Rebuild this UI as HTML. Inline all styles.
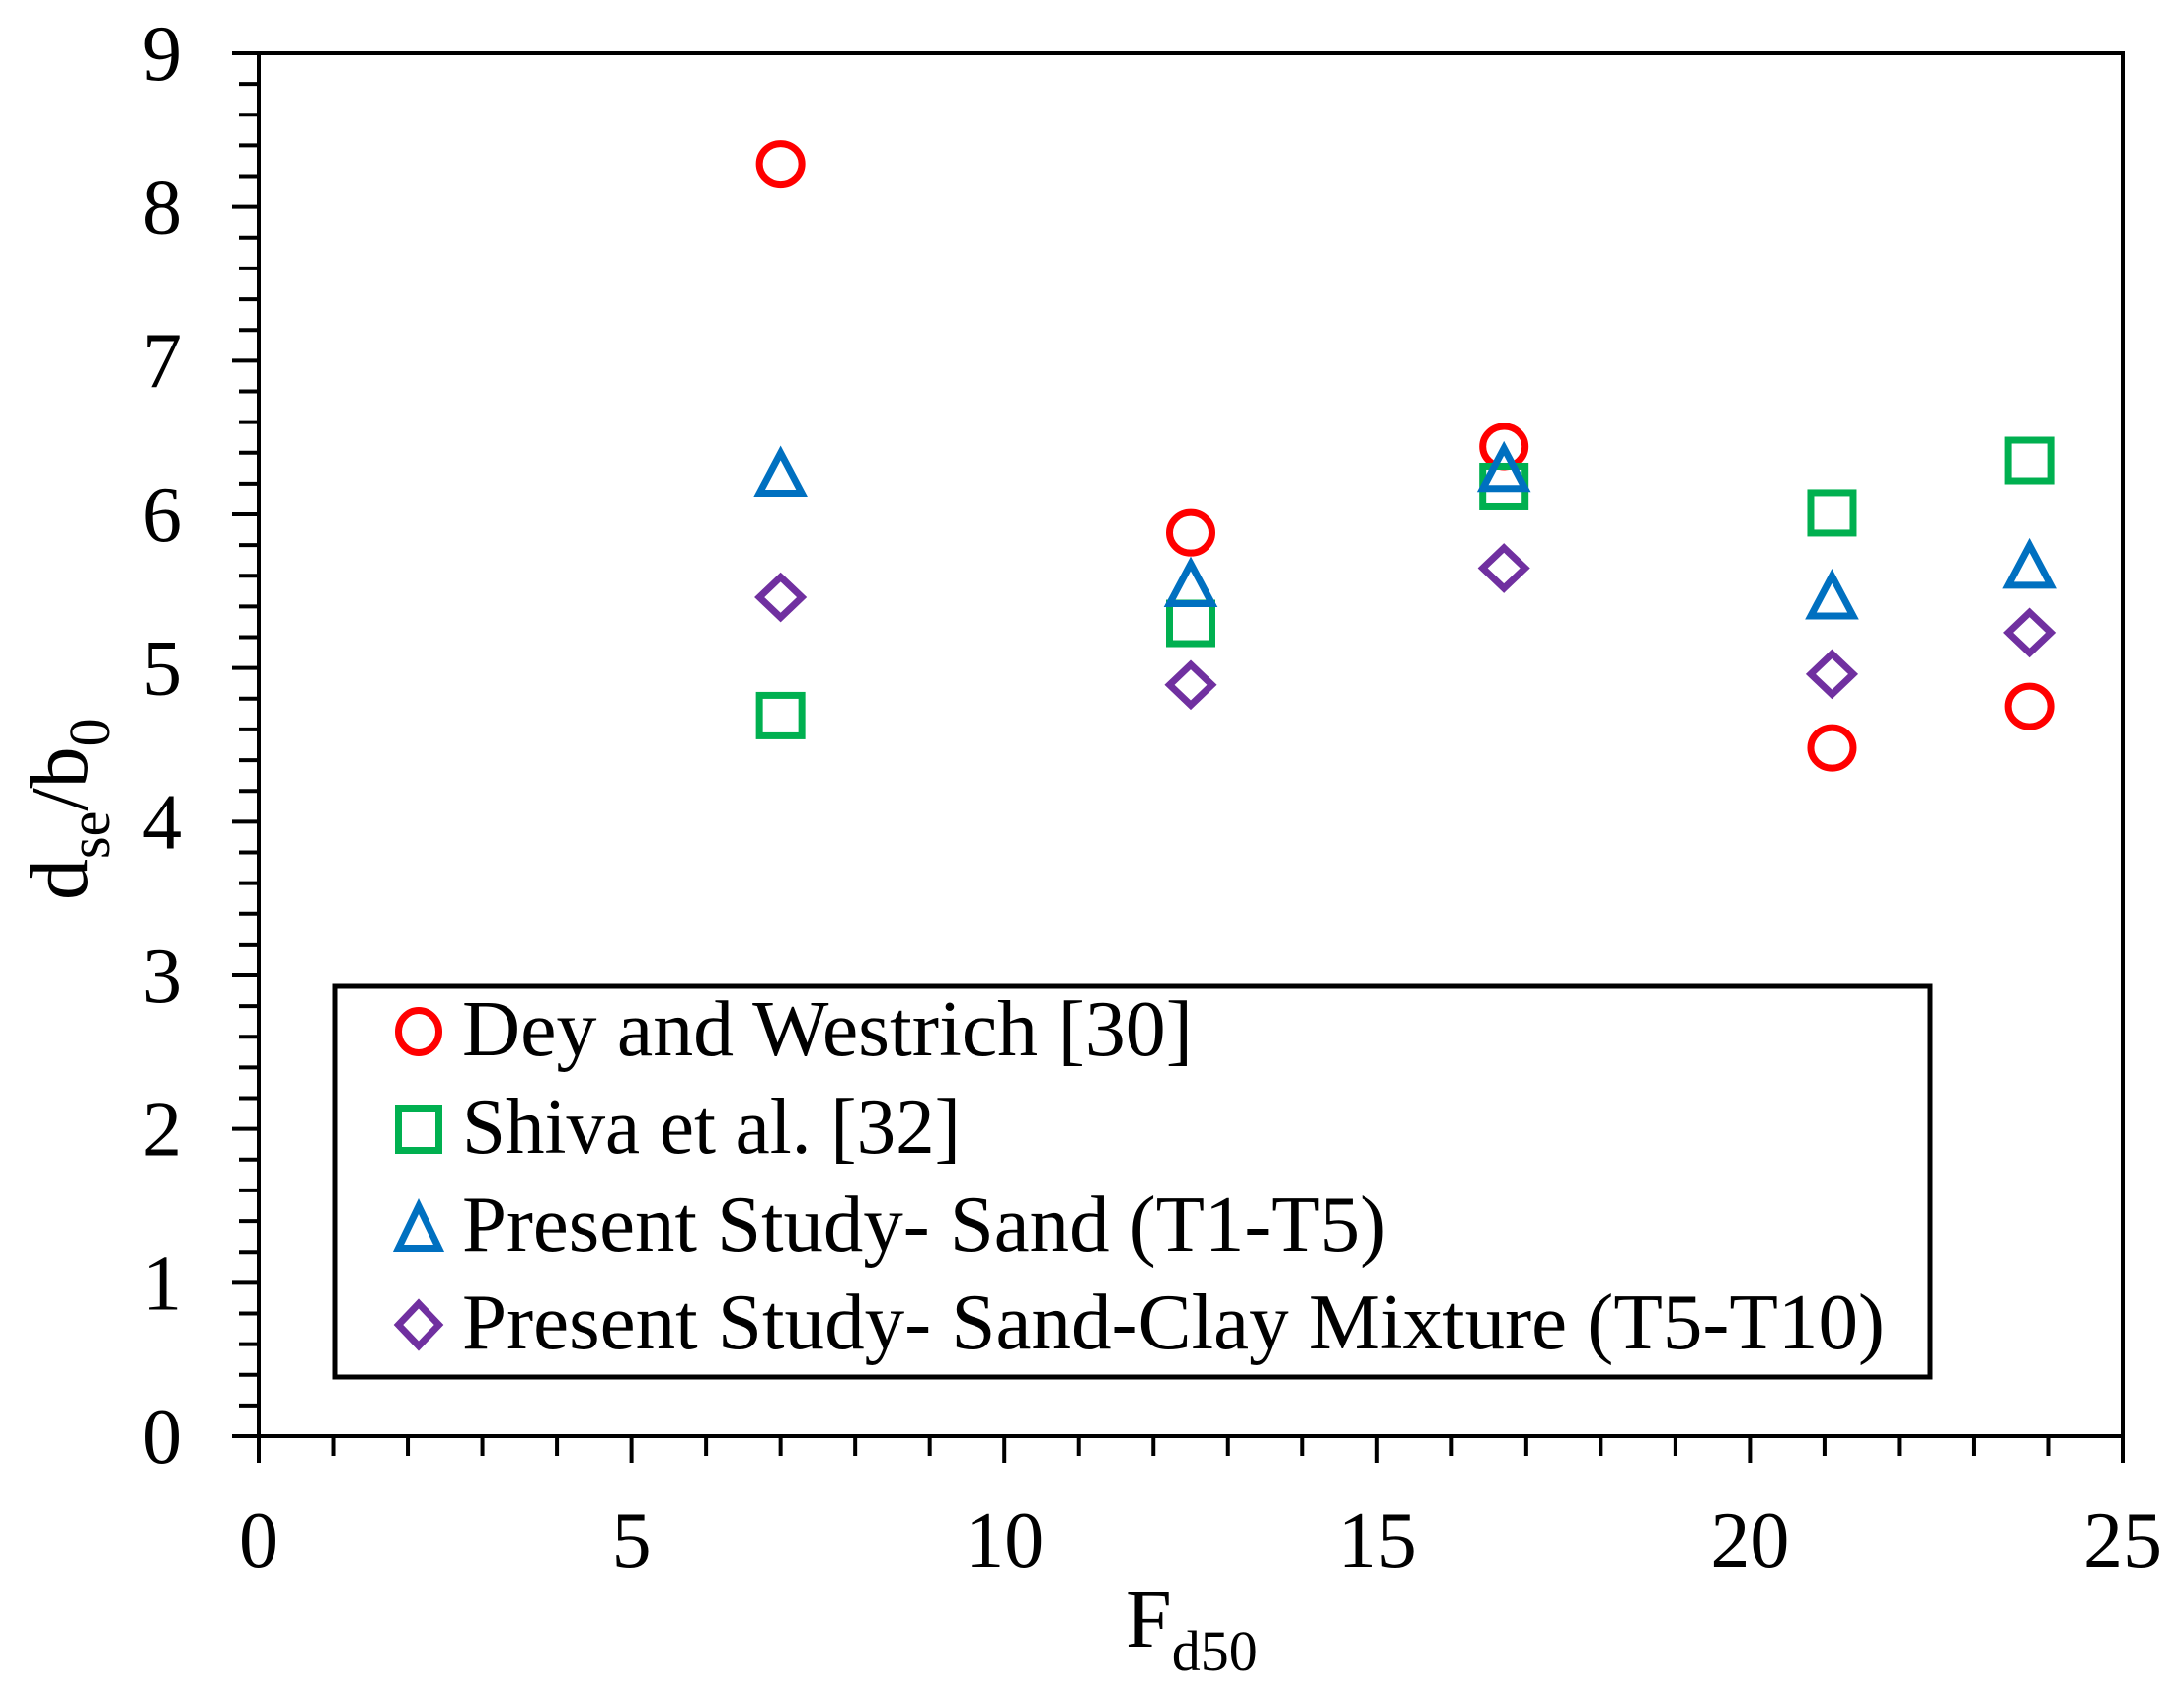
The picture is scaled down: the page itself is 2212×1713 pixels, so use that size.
<!DOCTYPE html>
<html><head><meta charset="utf-8"><style>
html,body{margin:0;padding:0;background:#fff;}
svg{display:block;font-family:"Liberation Serif",serif;}
</style></head><body>
<svg id="chart" width="2212" height="1713" viewBox="0 0 2212 1713" xmlns="http://www.w3.org/2000/svg">
<rect x="0" y="0" width="2212" height="1713" fill="#fff"/>
<g id="axes"></g>
<g id="marks"></g>
<text x="1140" y="1668" font-size="84">F<tspan font-size="58" dy="24">d50</tspan></text>
<text transform="translate(88,912) rotate(-90)" font-size="84">d<tspan font-size="58" dy="22">se</tspan><tspan dy="-22">/b</tspan><tspan font-size="58" dy="22">0</tspan></text>
<g id="legend">
<rect x="339" y="999" width="1616" height="396" fill="#fff" stroke="#000" stroke-width="5"/>
</g>
</svg>
<script>
const xValues = [7.0, 12.5, 16.7, 21.1, 23.75];
const deyValues = [8.28, 5.88, 6.44, 4.48, 4.75];
const shivaValues = [4.69, 5.29, 6.18, 6.01, 6.35];
const sandValues = [6.27, 5.55, 6.30, 5.47, 5.67];
const mixValues = [5.46, 4.89, 5.65, 4.96, 5.23];
const xTickLabels = ["0","5","10","15","20","25"];
const yTickLabels = ["0","1","2","3","4","5","6","7","8","9"];
const legendLabels = ["Dey and Westrich [30]","Shiva et al. [32]","Present Study- Sand (T1-T5)","Present Study- Sand-Clay Mixture (T5-T10)"];

const NS="http://www.w3.org/2000/svg";
const L=262,R=2150,T=54,B=1455;
const xs=v=>L+(v-0)/(25-0)*(R-L);
const ys=v=>B-(v-0)/(9-0)*(B-T);
function mk(tag,attrs,parent){const e=document.createElementNS(NS,tag);for(const k in attrs)e.setAttribute(k,attrs[k]);parent.appendChild(e);return e;}
const axes=document.getElementById('axes');
const frame=mk('rect',{x:L,y:T,width:R-L,height:B-T,fill:'none',stroke:'#000','stroke-width':4},axes);


for(let i=0;i<=25;i++){
  const x=xs(i);const major=i%5===0;
  const t=mk('line',{x1:x,y1:B,x2:x,y2:B+(major?27:20),stroke:'#000','stroke-width':4},axes);
  
  
}
xTickLabels.forEach((lab,i)=>{
  const t=mk('text',{x:xs(i*5),y:1587,'font-size':80,'text-anchor':'middle'},axes);
  t.textContent=lab;
  
  
});
for(let i=0;i<=45;i++){
  const v=i*0.2;const y=ys(v);const major=i%5===0;
  const t=mk('line',{x1:L-(major?27:20),y1:y,x2:L,y2:y,stroke:'#000','stroke-width':4},axes);
  
  
}
yTickLabels.forEach((lab,i)=>{
  const t=mk('text',{x:184,y:ys(i)+27,'font-size':80,'text-anchor':'end'},axes);
  t.textContent=lab;
  
  
});
function marker(type,cx,cy,w,h,parent){
  const sw=7;let e;
  if(type==='circle')e=mk('ellipse',{cx:cx,cy:cy,rx:w/2-3.5,ry:h/2-3.5,fill:'none',stroke:'#ff0000','stroke-width':sw},parent);
  else if(type==='square')e=mk('rect',{x:cx-w/2+3.5,y:cy-h/2+3.5,width:w-7,height:h-7,fill:'none',stroke:'#00b050','stroke-width':sw},parent);
  else if(type==='triangle')e=mk('polygon',{points:`${cx},${cy-h/2+4} ${cx+w/2-3.5},${cy+h/2-3.5} ${cx-w/2+3.5},${cy+h/2-3.5}`,fill:'none',stroke:'#0070c0','stroke-width':sw},parent);
  else e=mk('polygon',{points:`${cx},${cy-h/2+3.5} ${cx+w/2-3.5},${cy} ${cx},${cy+h/2-3.5} ${cx-w/2+3.5},${cy}`,fill:'none',stroke:'#7030a0','stroke-width':sw},parent);
  return e;
}
const marks=document.getElementById('marks');
const series=[['circle',deyValues,'dey-point'],['square',shivaValues,'shiva-point'],['triangle',sandValues,'sand-point'],['diamond',mixValues,'mixture-point']];
series.forEach(s=>{
  s[1].forEach((v,i)=>{
    const e=marker(s[0],xs(xValues[i]),ys(v),50,48,marks);
    
    
  });
});
const legend=document.getElementById('legend');
const textEnds=[1208,973,1404,1909];
legendLabels.forEach((lab,i)=>{
  const cy=1045+i*99;
  const e=marker(series[i][0],424,cy,48,50,legend);
  
  
  const t=mk('text',{x:468,y:cy+24,'font-size':80,textLength:textEnds[i]-468,lengthAdjust:'spacingAndGlyphs'},legend);
  t.textContent=lab;
  
  
});
</script>
</body></html>
